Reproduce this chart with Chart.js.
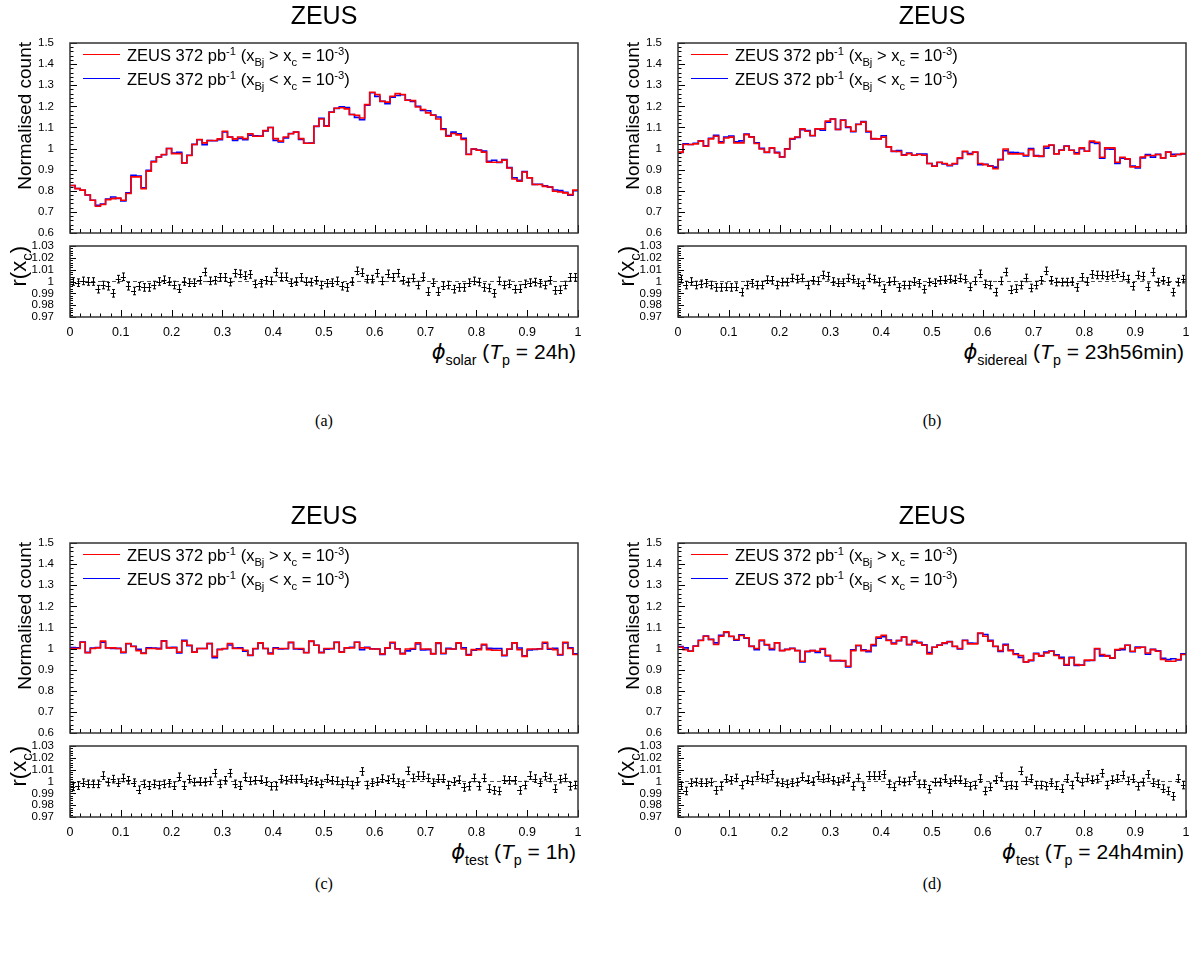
<!DOCTYPE html>
<html>
<head>
<meta charset="utf-8">
<title>ZEUS phase distributions</title>
<script src="https://cdn.jsdelivr.net/npm/chart.js@4.4.1/dist/chart.umd.min.js"></script>
<style>
  html, body { margin: 0; padding: 0; background: #fff; }
  body { position: relative; width: 1200px; height: 966px; overflow: hidden;
         font-family: "Liberation Sans", Arial, sans-serif; color: #000; }
  canvas { position: absolute; }
  .t { position: absolute; white-space: nowrap; line-height: 1; }
  .t sub, .t sup { font-size: 0.68em; line-height: 0; position: relative; vertical-align: baseline; }
  .t sup { top: -0.55em; }
  .t sub { top: 0.42em; }
  .title { font-size: 25px; transform: translateX(-50%); }
  .leg { font-size: 16.5px; }
  .ytitle { font-size: 19px; transform-origin: 0 0; transform: rotate(-90deg) translate(-100%, -50%); }
  .ytitle.r { font-size: 22px; }
  .xtitle { font-size: 21px; transform: translateX(-100%); }
  .phi { font-family: "DejaVu Sans", sans-serif; font-style: italic; }
  .cap { font-family: "Liberation Serif", serif; font-size: 16px; transform: translateX(-50%); }
  .legline { position: absolute; height: 0; border-top: 1.5px solid; }
</style>
</head>
<body>
<script>
const FONT = '"Liberation Sans", Arial, sans-serif';
const nBins = 100;
const xTicks = [0, 0.1, 0.2, 0.3, 0.4, 0.5, 0.6, 0.7, 0.8, 0.9, 1];
const countTicks = [0.6, 0.7, 0.8, 0.9, 1, 1.1, 1.2, 1.3, 1.4, 1.5];
const ratioTicks = [0.97, 0.98, 0.99, 1, 1.01, 1.02, 1.03];
const ratioErr = 0.0032;

// normalised counts, x_Bj > x_c (red), 100 phase bins
const countSolar = [
  0.825, 0.81, 0.803, 0.78, 0.755, 0.727, 0.735, 0.758, 0.763, 0.765,
  0.755, 0.787, 0.866, 0.866, 0.81, 0.893, 0.937, 0.96, 0.972, 1.0,
  0.976, 0.976, 0.932, 0.967, 1.019, 1.043, 1.027, 1.038, 1.038, 1.046,
  1.082, 1.054, 1.046, 1.055, 1.047, 1.07, 1.058, 1.058, 1.085, 1.10,
  1.047, 1.035, 1.055, 1.07, 1.078, 1.047, 1.025, 1.025, 1.106, 1.14,
  1.106, 1.172, 1.191, 1.193, 1.188, 1.161, 1.158, 1.145, 1.208, 1.267,
  1.256, 1.224, 1.22, 1.248, 1.26, 1.256, 1.229, 1.227, 1.197, 1.185,
  1.169, 1.158, 1.14, 1.09, 1.058, 1.071, 1.065, 1.043, 0.972, 0.998,
  0.992, 0.983, 0.935, 0.935, 0.935, 0.945, 0.908, 0.856, 0.845, 0.889,
  0.861, 0.83, 0.83, 0.821, 0.818, 0.798, 0.795, 0.79, 0.782, 0.803
];
const ratioSolar = [
  1.000, 0.999, 1.0005, 1.000, 1.000, 0.9935, 0.997, 0.996, 0.990, 1.002,
  1.004, 0.996, 0.992, 0.996, 0.995, 0.995, 0.997, 1.000, 1.0015, 1.000,
  0.997, 0.994, 1.000, 0.999, 0.999, 1.001, 1.008, 1.0005, 1.001, 1.0035,
  1.0035, 0.9995, 1.007, 1.0065, 1.005, 1.006, 0.998, 0.9985, 1.001, 1.0005,
  1.008, 1.004, 1.004, 0.999, 1.000, 1.0035, 1.000, 0.9995, 1.001, 0.997,
  0.9985, 0.999, 1.0005, 0.996, 0.995, 1.000, 1.009, 1.0075, 1.002, 1.002,
  1.007, 1.0005, 1.0065, 1.0035, 1.007, 1.001, 0.9995, 1.003, 0.997, 1.004,
  0.9915, 0.999, 0.9915, 0.9965, 0.997, 0.9935, 0.995, 0.995, 0.999, 1.0005,
  0.9995, 0.995, 0.9945, 0.990, 1.0005, 0.997, 0.998, 0.9935, 0.994, 0.998,
  0.999, 0.9995, 0.9985, 0.997, 1.001, 0.9925, 0.993, 0.997, 1.0035, 1.0035
];

const countSidereal = [
  0.983, 1.019, 1.019, 1.022, 1.035, 1.011, 1.046, 1.058, 1.027, 1.05,
  1.054, 1.027, 1.027, 1.066, 1.054, 1.024, 0.998, 0.983, 1.003, 0.979,
  0.96, 0.998, 1.047, 1.055, 1.093, 1.082, 1.062, 1.093, 1.093, 1.13,
  1.14, 1.09, 1.134, 1.103, 1.082, 1.114, 1.125, 1.082, 1.047, 1.046,
  1.054, 1.008, 0.987, 0.986, 0.968, 0.976, 0.968, 0.972, 0.968, 0.929,
  0.916, 0.935, 0.929, 0.921, 0.929, 0.956, 0.987, 0.972, 0.983, 0.929,
  0.924, 0.916, 0.904, 0.948, 0.998, 0.975, 0.975, 0.975, 0.968, 0.995,
  0.964, 0.964, 1.011, 1.017, 0.975, 0.992, 1.011, 0.992, 0.975, 1.003,
  0.987, 1.035, 1.03, 0.959, 1.003, 1.003, 0.935, 0.959, 0.951, 0.913,
  0.913, 0.96, 0.967, 0.967, 0.972, 0.956, 0.983, 0.964, 0.972, 0.976
];
const ratioSidereal = [
  1.002, 0.997, 1.000, 0.997, 0.998, 0.9985, 0.997, 0.995, 0.995, 0.9955,
  0.995, 0.9955, 0.991, 0.997, 0.9985, 0.997, 0.997, 1.0015, 1.001, 0.997,
  0.9995, 0.9995, 1.003, 1.002, 1.003, 0.997, 1.001, 1.0005, 1.0055, 1.0045,
  1.000, 0.999, 0.999, 1.003, 1.002, 0.999, 0.997, 1.003, 1.002, 0.9995,
  0.994, 1.000, 1.0005, 0.995, 0.997, 0.997, 1.000, 0.9985, 0.9935, 0.9995,
  0.999, 1.001, 1.0015, 1.002, 1.0015, 1.003, 1.002, 0.9955, 1.0005, 1.0065,
  0.998, 0.997, 0.991, 1.0005, 1.008, 0.993, 0.994, 0.997, 1.003, 0.9945,
  0.997, 1.001, 1.009, 1.001, 0.9995, 0.9995, 0.9995, 1.000, 0.995, 1.0035,
  1.000, 1.006, 1.0055, 1.0055, 1.005, 1.0055, 1.0065, 1.0045, 1.002, 0.996,
  1.0055, 1.0045, 0.9955, 1.008, 0.9995, 1.001, 1.000, 0.991, 0.9995, 1.002
];

const countTest1h = [
  1.0, 1.0, 1.03, 0.98, 1.0, 1.003, 1.035, 1.003, 1.003, 1.0,
  0.983, 1.024, 1.01, 0.99, 0.977, 1.0, 1.0, 0.998, 1.035, 1.003,
  1.003, 0.983, 1.035, 1.016, 0.983, 1.0, 1.0, 1.024, 0.963, 0.995,
  1.0, 1.024, 1.0, 1.0, 0.992, 0.968, 1.0, 1.027, 1.0, 0.975,
  1.0, 1.0, 1.0, 1.03, 1.0, 1.0, 0.98, 1.035, 1.016, 0.98,
  1.0, 1.0, 1.03, 0.983, 1.003, 1.003, 1.03, 1.003, 1.003, 0.998,
  0.998, 0.975, 1.003, 1.03, 0.998, 0.975, 0.998, 1.0, 1.027, 0.998,
  0.998, 0.975, 1.027, 0.978, 0.998, 0.998, 1.027, 0.998, 0.968, 0.995,
  0.995, 1.02, 0.995, 0.992, 0.992, 0.968, 0.998, 1.027, 0.995, 0.963,
  0.998, 0.998, 0.998, 1.03, 1.0, 0.995, 0.972, 1.03, 1.0, 0.972
];
const ratioTest1h = [
  0.9955, 0.9965, 0.999, 0.998, 0.998, 0.998, 1.005, 0.9995, 1.002, 0.999,
  1.003, 1.001, 0.999, 0.993, 0.998, 0.9965, 0.998, 0.997, 0.998, 0.9985,
  0.9965, 1.004, 0.9965, 1.002, 0.9995, 1.000, 0.9995, 1.0005, 1.007, 0.998,
  1.001, 1.007, 0.998, 0.9965, 1.004, 1.0005, 1.001, 1.0015, 1.000, 0.996,
  0.996, 1.002, 1.001, 1.002, 1.002, 1.0025, 0.999, 1.001, 1.000, 0.998,
  1.0025, 1.001, 1.0005, 0.998, 1.0005, 0.997, 1.000, 1.0085, 0.997, 0.999,
  1.000, 1.0025, 1.0015, 1.003, 0.999, 0.998, 1.009, 1.003, 1.005, 1.005,
  1.003, 0.999, 1.0025, 1.0025, 0.997, 1.000, 1.0015, 0.995, 0.996, 1.003,
  0.996, 1.003, 0.994, 0.9925, 0.992, 1.0015, 1.001, 1.001, 0.9925, 0.997,
  1.005, 1.0025, 0.999, 1.0045, 1.003, 0.994, 1.002, 1.003, 0.996, 0.997
];

const countTest24h4 = [
  1.006, 0.995, 0.987, 1.011, 1.038, 1.058, 1.043, 1.019, 1.058, 1.079,
  1.058, 1.043, 1.062, 1.051, 1.011, 1.0, 1.04, 1.019, 1.0, 1.027,
  0.99, 0.995, 1.0, 0.99, 0.94, 0.987, 0.99, 0.987, 1.0, 0.968,
  0.943, 0.943, 0.943, 0.916, 0.99, 1.016, 0.99, 0.99, 1.019, 1.054,
  1.063, 1.038, 1.022, 1.038, 1.054, 1.019, 1.038, 1.027, 1.016, 0.975,
  1.006, 1.016, 1.027, 1.032, 1.011, 1.0, 1.038, 1.022, 1.022, 1.074,
  1.058, 1.035, 1.011, 0.99, 1.016, 0.99, 0.972, 0.967, 0.937, 0.945,
  0.975, 0.964, 0.979, 0.987, 0.967, 0.953, 0.924, 0.956, 0.924, 0.921,
  0.945, 0.945, 1.0, 0.972, 0.964, 0.956, 0.995, 1.0, 1.016, 0.987,
  1.003, 1.006, 0.979, 0.995, 0.987, 0.948, 0.94, 0.94, 0.948, 0.972
];
const ratioTest24h4 = [
  0.9965, 0.992, 0.999, 0.9995, 0.999, 0.999, 0.9995, 0.9925, 0.996, 1.0025,
  1.001, 1.003, 0.997, 1.0015, 1.0005, 1.005, 1.003, 1.002, 1.006, 0.9995,
  0.999, 0.998, 0.999, 0.9995, 1.004, 1.0015, 1.000, 1.005, 1.0025, 1.003,
  1.001, 1.000, 1.002, 1.004, 0.996, 1.003, 0.9955, 1.005, 1.005, 1.005,
  1.006, 0.998, 0.9955, 1.0005, 0.9995, 1.0005, 1.005, 0.998, 0.998, 0.9935,
  0.9995, 0.9995, 1.0025, 0.999, 1.0015, 1.0015, 0.999, 0.996, 0.997, 1.0025,
  0.992, 0.9955, 1.0015, 1.004, 0.9965, 0.997, 0.9965, 1.009, 1.0005, 1.0025,
  0.997, 0.997, 0.996, 0.999, 0.9965, 0.994, 1.0025, 0.997, 1.004, 0.9995,
  1.003, 1.0015, 1.002, 1.007, 0.997, 1.0015, 1.0025, 1.0055, 1.0005, 1.0025,
  0.996, 0.9995, 1.006, 0.999, 0.998, 0.994, 0.992, 0.9875, 1.0025, 0.997
];

const panels = [
  { tag: '(a)', x0: 0,   y0: 0,   capY: 421, counts: countSolar,    ratio: ratioSolar,    sub: 'solar',    period: '24h' },
  { tag: '(b)', x0: 608, y0: 0,   capY: 421, counts: countSidereal, ratio: ratioSidereal, sub: 'sidereal', period: '23h56min' },
  { tag: '(c)', x0: 0,   y0: 500, capY: 884, counts: countTest1h,   ratio: ratioTest1h,   sub: 'test',     period: '1h' },
  { tag: '(d)', x0: 608, y0: 500, capY: 884, counts: countTest24h4, ratio: ratioTest24h4, sub: 'test',     period: '24h4min' }
];

function fmt(v) { return String(Math.round(v * 1000) / 1000); }

function subTicks(major, n) {
  const out = [];
  for (let i = 0; i < major.length - 1; i++)
    for (let k = 1; k < n; k++) out.push(major[i] + (major[i + 1] - major[i]) * k / n);
  return out;
}

// histogram as step line: value i holds from edge i to edge i+1
function stepPoints(vals) {
  const pts = vals.map((v, i) => ({ x: i / nBins, y: v }));
  pts.push({ x: 1, y: vals[vals.length - 1] });
  return pts;
}

function axisX(showLabels, h) {
  return {
    type: 'linear', min: 0, max: 1,
    afterFit: s => { s.height = h; },
    afterBuildTicks: s => { s.ticks = xTicks.map(v => ({ value: v })); },
    ticks: { display: showLabels, autoSkip: false, maxRotation: 0, padding: 0, color: '#000',
             font: { family: FONT, size: 12.5 }, callback: v => fmt(v) },
    grid: { display: false },
    border: { display: false }
  };
}

function axisY(min, max, ticks) {
  return {
    type: 'linear', min, max,
    afterFit: s => { s.width = 70; },
    afterBuildTicks: s => { s.ticks = ticks.map(v => ({ value: v })); },
    ticks: { autoSkip: false, padding: 8, color: '#000',
             font: { family: FONT, size: 11.5 }, callback: v => fmt(v) },
    grid: { display: false },
    border: { display: false }
  };
}

// ROOT-like frame with inward major/minor ticks on left and bottom
function makeFrame(yTicks, yLen, xLen) {
  return {
    id: 'rootFrame',
    afterDraw(chart) {
      const { ctx, chartArea: a, scales: { x, y } } = chart;
      ctx.save();
      ctx.strokeStyle = '#000';
      ctx.lineWidth = 1;
      ctx.beginPath();
      yTicks.forEach(v => {
        const p = Math.round(y.getPixelForValue(v)) + 0.5;
        ctx.moveTo(a.left, p); ctx.lineTo(a.left + yLen, p);
      });
      subTicks(yTicks, 5).forEach(v => {
        const p = Math.round(y.getPixelForValue(v)) + 0.5;
        ctx.moveTo(a.left, p); ctx.lineTo(a.left + yLen / 2, p);
      });
      xTicks.forEach(v => {
        const p = Math.round(x.getPixelForValue(v)) + 0.5;
        ctx.moveTo(p, a.bottom); ctx.lineTo(p, a.bottom - xLen);
      });
      subTicks(xTicks, 5).forEach(v => {
        const p = Math.round(x.getPixelForValue(v)) + 0.5;
        ctx.moveTo(p, a.bottom); ctx.lineTo(p, a.bottom - xLen / 2);
      });
      ctx.stroke();
      ctx.strokeStyle = '#333';
      ctx.lineWidth = 1.5;
      ctx.strokeRect(a.left, a.top, a.right - a.left, a.bottom - a.top);
      ctx.restore();
    }
  };
}

const errorBars = {
  id: 'errorBars',
  afterDatasetsDraw(chart) {
    const { ctx, scales: { x, y } } = chart;
    const ds = chart.data.datasets[1];
    ctx.save();
    ctx.strokeStyle = '#000';
    ctx.lineWidth = 1;
    ctx.beginPath();
    ds.data.forEach(p => {
      const cx = Math.round(x.getPixelForValue(p.x)) + 0.5;
      const cy = Math.round(y.getPixelForValue(p.y)) + 0.5;
      const xl = x.getPixelForValue(p.x - p.ex), xr = x.getPixelForValue(p.x + p.ex);
      const yt = y.getPixelForValue(p.y + p.ey), yb = y.getPixelForValue(p.y - p.ey);
      ctx.moveTo(xl, cy); ctx.lineTo(xr, cy);
      ctx.moveTo(cx, yt); ctx.lineTo(cx, yb);
      ctx.moveTo(cx - 1.5, yt); ctx.lineTo(cx + 1.5, yt);
      ctx.moveTo(cx - 1.5, yb); ctx.lineTo(cx + 1.5, yb);
    });
    ctx.stroke();
    ctx.restore();
  }
};

function addCanvas(left, top, w, h) {
  const c = document.createElement('canvas');
  c.width = w; c.height = h;
  c.style.left = left + 'px'; c.style.top = top + 'px';
  c.style.width = w + 'px'; c.style.height = h + 'px';
  document.body.appendChild(c);
  return c;
}

function addText(cls, html, left, top) {
  const d = document.createElement('div');
  d.className = 't ' + cls;
  d.innerHTML = html;
  d.style.left = left + 'px';
  d.style.top = top + 'px';
  document.body.appendChild(d);
  return d;
}

function addLegLine(left, top, w, color) {
  const d = document.createElement('div');
  d.className = 'legline';
  d.style.left = left + 'px'; d.style.top = top + 'px';
  d.style.width = w + 'px'; d.style.borderColor = color;
  document.body.appendChild(d);
}

const common = {
  responsive: false, animation: false, devicePixelRatio: 1, events: [],
  plugins: { legend: { display: false }, tooltip: { enabled: false } }
};

panels.forEach(p => {
  const { x0, y0 } = p;

  // upper pad: normalised counts (frame 43..233)
  const blue = p.counts.map((v, i) => v / p.ratio[i]);
  new Chart(addCanvas(x0, y0 + 28, 600, 225), {
    type: 'line',
    data: {
      datasets: [
        { data: stepPoints(p.counts), borderColor: '#ff0000', borderWidth: 1.6, stepped: true,
          pointRadius: 0, fill: false, borderJoinStyle: 'miter' },
        { data: stepPoints(blue), borderColor: '#0000ff', borderWidth: 1.6, stepped: true,
          pointRadius: 0, fill: false, borderJoinStyle: 'miter' }
      ]
    },
    options: {
      ...common,
      layout: { padding: { left: 0, right: 22, top: 15, bottom: 0 } },
      scales: { x: axisX(false, 20), y: axisY(0.6, 1.5, countTicks) }
    },
    plugins: [makeFrame(countTicks, 7, 8)]
  });

  // lower pad: ratio r(x_c) (frame 246..317)
  new Chart(addCanvas(x0, y0 + 230, 600, 109), {
    type: 'scatter',
    data: {
      datasets: [
        { type: 'line', data: [{ x: 0, y: 1 }, { x: 1, y: 1 }], borderColor: '#555', borderWidth: 1,
          borderDash: [4, 3], pointRadius: 0, fill: false },
        { data: p.ratio.map((r, i) => ({ x: (i + 0.5) / nBins, y: r, ex: 0.5 / nBins, ey: ratioErr })),
          pointRadius: 0, showLine: false }
      ]
    },
    options: {
      ...common,
      layout: { padding: { left: 0, right: 22, top: 16, bottom: 0 } },
      scales: { x: axisX(true, 22), y: axisY(0.97, 1.03, ratioTicks) }
    },
    plugins: [makeFrame(ratioTicks, 6, 7), errorBars]
  });

  // texts
  addText('title', 'ZEUS', x0 + 324, y0 + 3);
  addLegLine(x0 + 83, y0 + 54, 37, '#ff0000');
  addLegLine(x0 + 83, y0 + 78, 37, '#0000ff');
  addText('leg', 'ZEUS 372 pb<sup>-1</sup> (x<sub>Bj</sub> &gt; x<sub>c</sub> = 10<sup>-3</sup>)', x0 + 127, y0 + 47);
  addText('leg', 'ZEUS 372 pb<sup>-1</sup> (x<sub>Bj</sub> &lt; x<sub>c</sub> = 10<sup>-3</sup>)', x0 + 127, y0 + 71);
  addText('ytitle', 'Normalised count', x0 + 24, y0 + 42);
  addText('ytitle r', 'r(x<sub>c</sub>)', x0 + 19, y0 + 246);
  addText('xtitle', '<span class="phi">ϕ</span><sub>' + p.sub + '</sub> (<i>T</i><sub>p</sub> = ' + p.period + ')',
          x0 + 576, y0 + 341);
  addText('cap', p.tag, x0 + 324, p.capY - 8);
});
</script>
</body>
</html>
